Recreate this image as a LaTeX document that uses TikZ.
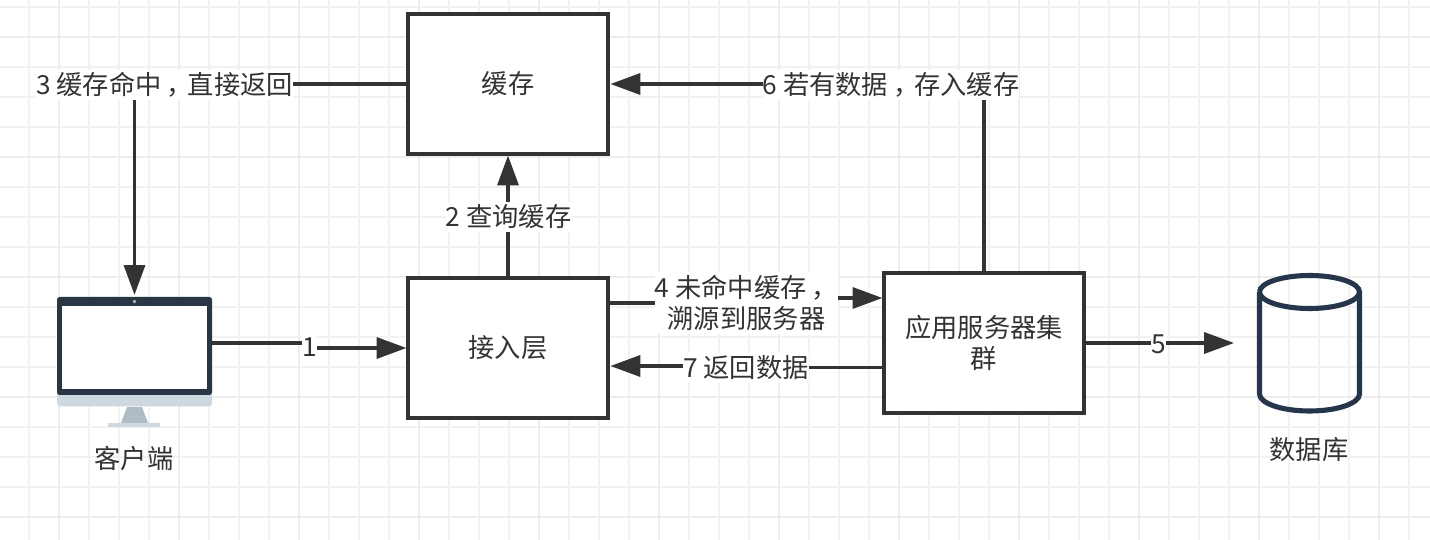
\documentclass[tikz,border=0pt]{standalone}
\usepackage{fontspec}
\usepackage{xcolor}
\usetikzlibrary{arrows.meta}
\setmainfont{Noto Sans CJK SC}

\definecolor{inkgray}{HTML}{333333}
\definecolor{framedark}{HTML}{2B3644}
\definecolor{bezel}{HTML}{CFD8E1}
\definecolor{standgray}{HTML}{B0BBC4}
\definecolor{dbblue}{HTML}{25364A}

\newcommand{\midcomma}{\hspace{.2em}，\hspace{-.2em}}

\tikzset{
  box/.style = {draw = inkgray, line width = 1.8pt, fill = white, minimum width = 4cm, minimum height = 2.8cm, inner sep = 0pt, align = center, text = inkgray},
  link/.style = {draw = inkgray, line width = 1.8pt},
  linkarrow/.style = {link, -{Triangle[length = 17pt, width = 12pt]}},
  linklabel/.style = {fill = white, inner xsep = 0pt, inner ysep = 1.5pt, align = center, text = inkgray},
  caption/.style = {inner sep = 0pt, text = inkgray}
}

\begin{document}
\begin{tikzpicture}[x = .02cm, y = -.02cm, font = \fontsize{14.95}{18}\selectfont]
  \useasboundingbox (0, 0) rectangle (1430, 540);
  \fill [white] (0, 0) rectangle (1430, 540);

  % grid
  \foreach \gx in {-1, 29, ..., 1439}
    \draw [line width = 1.2pt, black!5] (\gx, 0) -- (\gx, 540);
  \foreach \gy in {7, 37, ..., 537}
    \draw [line width = 1.2pt, black!5] (0, \gy) -- (1430, \gy);
  \foreach \gx in {59, 179, ..., 1439}
    \draw [line width = 1.6pt, black!7] (\gx, 0) -- (\gx, 540);
  \foreach \gy in {37, 157, ..., 517}
    \draw [line width = 1.6pt, black!7] (0, \gy) -- (1430, \gy);

  % boxes
  \node [box] (cache) at (508, 84) {缓存};
  \node [box] (access) at (508, 348) {接入层};
  \node [box] (appsrv) at (984, 343) {应用服务器集\\群};

  % monitor
  \fill [standgray] (127, 407) -- (142, 407) -- (148, 423) -- (121, 423) -- cycle;
  \fill [bezel] (108, 423) rectangle (160, 427);
  \fill [bezel, rounded corners = 2pt] (57, 385) rectangle (212, 406.5);
  \fill [framedark, rounded corners = 1.5pt] (57, 297) rectangle (212, 395);
  \fill [white] (62, 306) rectangle (207, 389);
  \fill [standgray] (134.5, 301.5) circle (1.8);
  \node [minimum width = 3.1cm, minimum height = 1.84cm, inner sep = 0pt] (client) at (134.5, 343) {};
  \node [caption] (clientname) at (134, 458) {客户端};

  % database
  \draw [dbblue, line width = 2.9pt] (1259.5, 292) arc [start angle = 180, end angle = 540, x radius = 50, y radius = 16.5];
  \draw [dbblue, line width = 2.9pt] (1259.5, 292) -- (1259.5, 394) arc [start angle = 180, end angle = 0, x radius = 50, y radius = 17] -- (1359.5, 292);
  \node [minimum width = 2.1cm, minimum height = 2.8cm, inner sep = 0pt] (db) at (1309.5, 343) {};
  \node [caption] (dbname) at (1309, 450) {数据库};

  % connectors
  \coordinate (dbstop) at (1234, 343);
  \draw [linkarrow] (client.east) -- (310, 343) -- (310, 348) -- (access.west);
  \draw [linkarrow] (access.north) -- (cache.south);
  \draw [linkarrow, shorten > = 1pt] (cache.west) -- (134.5, 84) -- (client.north);
  \draw [linkarrow] (access.east |- 0, 303) -- (745, 303) -- (745, 298) -- (appsrv.west |- 0, 298);
  \draw [linkarrow] (appsrv.east) -- (dbstop);
  \draw [linkarrow, shorten > = .5pt] (appsrv.north) -- (984, 84) -- (cache.east);
  \draw [linkarrow, shorten > = .5pt] (appsrv.west |- 0, 367.5) -- (746, 367.5) -- (746, 366) -- (access.east |- 0, 366);

  % connector labels
  \node [linklabel] (hit) at (164.5, 85) {3 缓存命中\midcomma 直接返回};
  \node [linklabel] (query) at (508.5, 217) {2 查询缓存};
  \node [linklabel] (req) at (309.5, 347) {1};
  \node [linklabel] (miss) at (746.5, 303) {4 未命中缓存\midcomma\\溯源到服务器};
  \node [linklabel] (toDb) at (1158.5, 344) {5};
  \node [linklabel] (store) at (891, 85) {6 若有数据\midcomma 存入缓存};
  \node [linklabel] (ret) at (746, 368) {7 返回数据};
\end{tikzpicture}
\end{document}
